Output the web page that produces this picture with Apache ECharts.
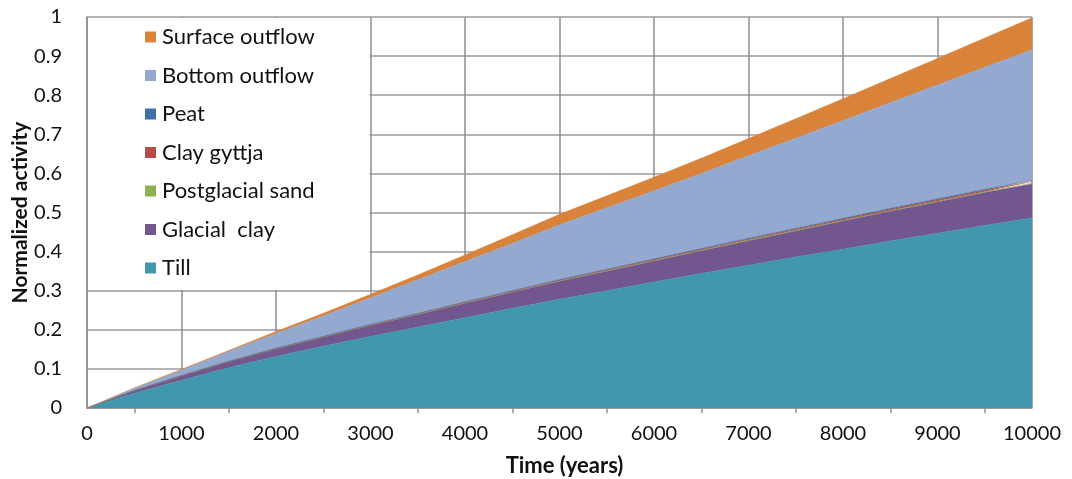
<!DOCTYPE html>
<html>
<head>
<meta charset="utf-8">
<script src="https://cdn.jsdelivr.net/npm/echarts@6/dist/echarts.min.js"></script>
<style>
html,body{margin:0;padding:0;background:#fff;}
#c{width:1072px;height:479px;}
</style>
</head>
<body>
<div id="c"></div>
<script>
const years = [0,500,1000,1500,2000,2500,3000,3500,4000,4500,5000,5500,6000,6500,7000,7500,8000,8500,9000,9500,10000];
const till = [0,0.038,0.071,0.103,0.132,0.158,0.183,0.207,0.231,0.255,0.278,0.300,0.322,0.344,0.365,0.386,0.406,0.427,0.447,0.467,0.486];
const glacialClay = [0,0.006,0.011,0.015,0.019,0.023,0.028,0.032,0.037,0.041,0.046,0.050,0.054,0.058,0.063,0.067,0.072,0.076,0.080,0.084,0.087];
const postglacialSand = [0,0.0001,0.0002,0.0003,0.0004,0.0005,0.0006,0.0007,0.0008,0.0009,0.0010,0.0011,0.0012,0.0013,0.0014,0.0015,0.0016,0.0017,0.0018,0.0019,0.0020];
const clayGyttja = [0,0.0002,0.0004,0.0006,0.0008,0.0010,0.0012,0.0014,0.0016,0.0018,0.0020,0.0022,0.0024,0.0026,0.0028,0.0030,0.0032,0.0034,0.0036,0.0038,0.0040];
const peat = [0,0.0001,0.0003,0.0004,0.0006,0.0007,0.0009,0.0010,0.0012,0.0013,0.0015,0.0016,0.0018,0.0019,0.0021,0.0022,0.0024,0.0025,0.0027,0.0028,0.0030];
const bottomOutflow = [0,0.006,0.014,0.025,0.038,0.052,0.068,0.086,0.103,0.121,0.140,0.157,0.174,0.192,0.211,0.230,0.250,0.270,0.291,0.312,0.334];
const surfaceOutflow = [0,0.001,0.002,0.003,0.005,0.007,0.009,0.012,0.017,0.022,0.027,0.031,0.035,0.039,0.044,0.050,0.056,0.062,0.068,0.075,0.082];

const seriesDefs = [
  {name:'Till', data:till, color:'#4097ae'},
  {name:'Glacial  clay', data:glacialClay, color:'#71578e'},
  {name:'Postglacial sand', data:postglacialSand, color:'#8fb04f'},
  {name:'Clay gyttja', data:clayGyttja, color:'#b94a48'},
  {name:'Peat', data:peat, color:'#3e6faa'},
  {name:'Bottom outflow', data:bottomOutflow, color:'#93a9cf'},
  {name:'Surface outflow', data:surfaceOutflow, color:'#d9823a'}
];
const legendOrder = ['Surface outflow','Bottom outflow','Peat','Clay gyttja','Postglacial sand','Glacial  clay','Till'];

const FONT = 'Lato';
const chart = echarts.init(document.getElementById('c'), null, {renderer:'canvas'});
const gridColor = '#8e8e8e';
const even = function(i){ return i % 2 === 0; };
const odd = function(i){ return i % 2 === 1; };
const option = {
  animation:false,
  textStyle:{fontFamily:FONT},
  grid:{left:87, right:40, top:17, bottom:71, containLabel:false, outerBoundsMode:'none'},
  legend:{
    data:legendOrder,
    orient:'vertical',
    left:145, top:26,
    itemWidth:11, itemHeight:11, itemGap:16.5,
    icon:'rect',
    padding:0,
    z:6,
    textStyle:{fontFamily:FONT, fontSize:22, lineHeight:20, color:'#111', padding:[0,0,0,1]}
  },
  xAxis:{
    type:'category', data:years.map(String), boundaryGap:false,
    name:'Time (years)', nameLocation:'middle', nameGap:47, nameMoveOverlap:false,
    nameTextStyle:{fontFamily:FONT, fontSize:22, fontWeight:'bold', color:'#111', padding:[0,0,0,10]},
    axisLine:{show:true, lineStyle:{color:gridColor, width:1.5}},
    axisTick:{show:true, interval:odd, length:5, lineStyle:{color:gridColor, width:1.5}},
    axisLabel:{fontFamily:FONT, fontSize:20, color:'#111', margin:16, interval:even},
    splitLine:{show:true, interval:even, lineStyle:{color:gridColor, width:1.5}}
  },
  yAxis:{
    type:'value', min:0, max:1, interval:0.1,
    name:'Normalized activity', nameLocation:'middle', nameGap:56, nameMoveOverlap:false,
    nameTextStyle:{fontFamily:FONT, fontSize:21, fontWeight:'bold', color:'#111'},
    axisLine:{show:true, lineStyle:{color:gridColor, width:1.5}},
    axisTick:{show:false},
    axisLabel:{fontFamily:FONT, fontSize:20, color:'#111', margin:25,
      formatter:function(v){return String(Math.round(v*10)/10);}},
    splitLine:{show:true, lineStyle:{color:'#9a9a9a', width:1.5}}
  },
  series: seriesDefs.map(s => ({
    name:s.name, type:'line', stack:'total',
    data: s.data,
    showSymbol:false, symbol:'none',
    lineStyle:{width:0.5, color:s.color},
    itemStyle:{color:s.color},
    areaStyle:{color:s.color, opacity:1},
    emphasis:{disabled:true}
  }))
};
chart.setOption(option);
const p0 = chart.convertToPixel({gridIndex:0},[0,1]);
const p1 = chart.convertToPixel({gridIndex:0},[6,0.3]);
chart.setOption({
  graphic:[{
    type:'rect', z:5,
    shape:{x:p0[0]+1, y:p0[1]+1, width:p1[0]-p0[0]-2, height:p1[1]-p0[1]-2},
    style:{fill:'#ffffff'}
  }]
});
</script>
</body>
</html>
